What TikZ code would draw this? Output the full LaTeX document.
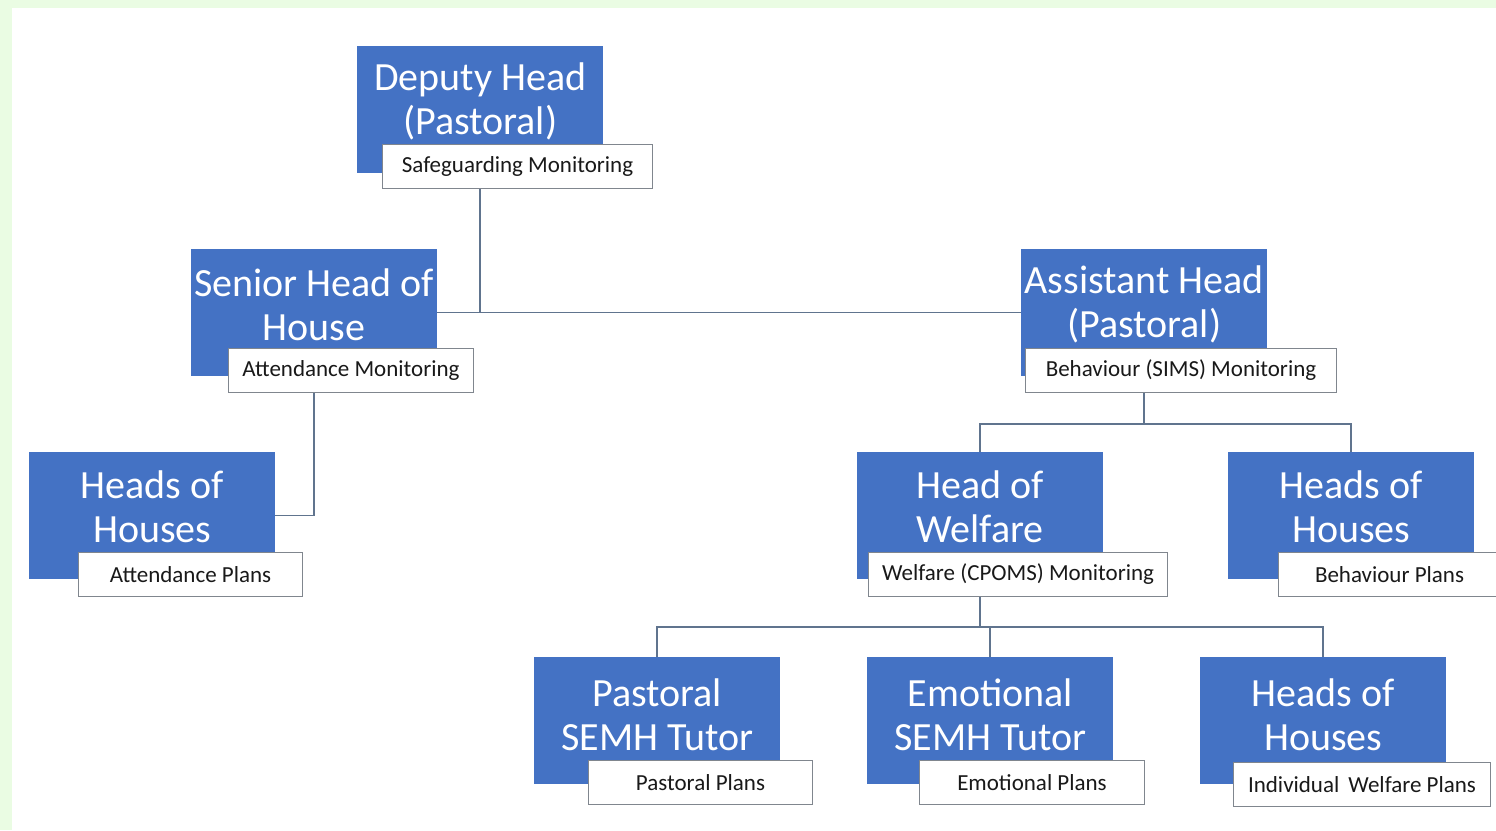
\documentclass[tikz,border=0pt]{standalone}
\usepackage{fontspec}
\setmainfont{Carlito}
\usetikzlibrary{positioning}

\definecolor{boxblue}{RGB}{68,114,196}
\definecolor{labelgray}{RGB}{128,134,142}
\definecolor{linkgray}{RGB}{96,116,142}
\definecolor{bggreen}{RGB}{234,252,227}

\begin{document}
\begin{tikzpicture}[
    x=1pt, y=-1pt,
    headbox/.style={
        draw = none,
        fill = boxblue,
        minimum width = 246pt,
        minimum height = 127pt,
        anchor = north west,
        inner sep = 0pt
    },
    headtext/.style={
        text = white,
        align = center,
        font = \fontsize{40}{44}\selectfont,
        inner sep = 0pt
    },
    planbox/.style={
        draw = labelgray,
        fill = white,
        line width = 1pt,
        minimum height = 44pt,
        anchor = north west,
        inner sep = 0pt,
        text = black!90,
        font = \fontsize{23}{26}\selectfont
    },
    link/.style={
        draw = linkgray,
        line width = 1.5pt
    }
    ]

% page background
\fill[bggreen] (0,0) rectangle (1496,830);
\fill[white] (12,8) rectangle (1496,830);
\useasboundingbox (0,0) rectangle (1496,830);

% top level
\node[headbox] (dep) at (357,46) {};
\node[headtext] (deptitle) at ([yshift=8pt]dep.center) {Deputy Head\\(Pastoral)};
\node[planbox, minimum width=270pt] (deplab) at (382,144) {Safeguarding Monitoring};

% second level
\node[headbox] (sen) at (191,249) {};
\node[headtext] (sentitle) at ([yshift=8pt]sen.center) {Senior Head of\\House};
\node[planbox, minimum width=245pt] (senlab) at (228,348) {Attendance Monitoring};

\node[headbox] (ast) at (1021,249) {};
\node[headtext] (asttitle) at ([yshift=8pt]ast.center) {Assistant Head\\(Pastoral)};
\node[planbox, minimum width=311pt] (astlab) at (1025,348) {Behaviour (SIMS) Monitoring};

% third level
\node[headbox] (hohl) at (29,452) {};
\node[headtext] (hohltitle) at ([yshift=9pt]hohl.center) {Heads of\\Houses};
\node[planbox, minimum width=224pt] (hohllab) at (78,552) {Attendance Plans};

\node[headbox] (wel) at (857,452) {};
\node[headtext] (weltitle) at ([yshift=9pt]wel.center) {Head of\\Welfare};
\node[planbox, minimum width=299pt] (wellab) at (868,552) {Welfare (CPOMS) Monitoring};

\node[headbox] (hohr) at (1228,452) {};
\node[headtext] (hohrtitle) at ([yshift=9pt]hohr.center) {Heads of\\Houses};
\node[planbox, minimum width=222pt] (hohrlab) at (1278,552) {Behaviour Plans};

% fourth level
\node[headbox] (past) at (534,657) {};
\node[headtext] (pasttitle) at ([yshift=6pt]past.center) {Pastoral\\SEMH Tutor};
\node[planbox, minimum width=224pt] (pastlab) at (588,760) {Pastoral Plans};

\node[headbox] (emo) at (867,657) {};
\node[headtext] (emotitle) at ([yshift=6pt]emo.center) {Emotional\\SEMH Tutor};
\node[planbox, minimum width=225pt] (emolab) at (919,760) {Emotional Plans};

\node[headbox] (hohb) at (1200,657) {};
\node[headtext] (hohbtitle) at ([yshift=6pt]hohb.center) {Heads of\\Houses};
\node[planbox, minimum width=257pt] (hohblab) at (1233,762) {Individual\, Welfare Plans};

% connectors
\draw[link] (deplab.south -| deptitle.center) -- (deptitle.center |- sen.east);
\draw[link] (sen.east) -- (ast.west);
\draw[link] (sen.center |- senlab.south) |- (hohl.east);
\draw[link] (ast.center |- astlab.south) -- ++(0,31) coordinate (astfork);
\draw[link] (wel.north) |- (astfork) -| (hohr.north);
\draw[link] (wel.center |- wellab.south) -- ++(0,30) coordinate (welfork);
\draw[link] (past.north) |- (welfork) -| (hohb.north);
\draw[link] (emo.north) -- (emo.north |- welfork);
\end{tikzpicture}
\end{document}
